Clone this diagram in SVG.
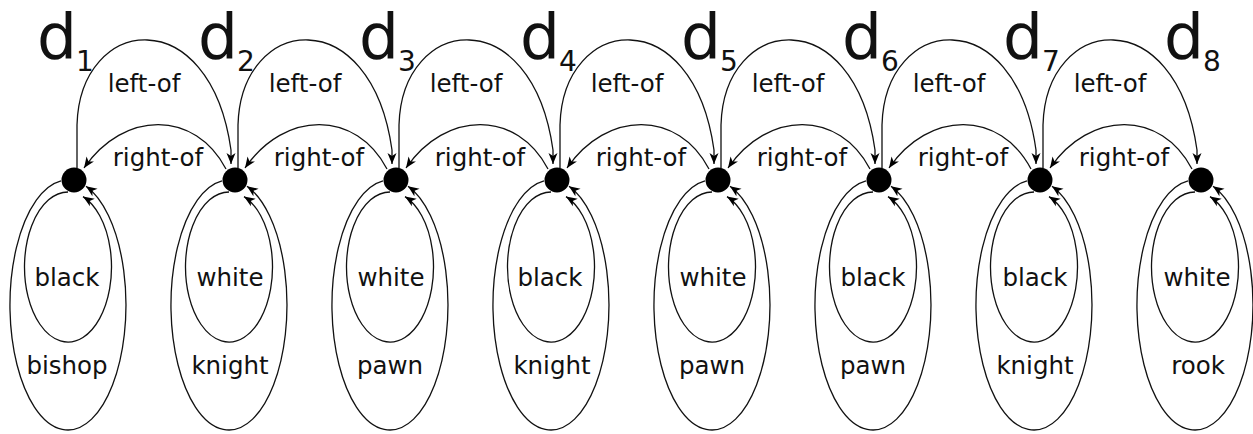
<svg xmlns="http://www.w3.org/2000/svg" width="1253" height="434" viewBox="0 0 1253 434">
<style>
.e{fill:none;stroke:#111;stroke-width:1.3}
.a{fill:none;stroke:#111;stroke-width:1.3;marker-end:url(#ah)}
.n{fill:#000}
.t{font-family:"DejaVu Sans",sans-serif;font-size:24.5px;fill:#111;text-anchor:middle}
.d{font-family:"DejaVu Sans",sans-serif;font-size:63px;fill:#111}
.s{font-family:"DejaVu Sans",sans-serif;font-size:28px;fill:#111}
</style>
<defs>
<marker id="ah" viewBox="-12 -6 13 12" refX="0" refY="0" markerWidth="13" markerHeight="12" markerUnits="userSpaceOnUse" orient="auto">
<path d="M0 0 L-11 -4.5 L-8 0 L-11 4.5 Z" fill="#000"/>
</marker>
</defs>
<rect width="1253" height="434" fill="#fff"/>
<g id="connectors">
<path class="a" d="M77 168 L77 125 C80 15 210 0 231 150 L231 164"/>
<path class="a" d="M238 168 L238 125 C241 15 371 0 392 150 L392 164"/>
<path class="a" d="M399 168 L399 125 C402 15 532 0 553 150 L553 164"/>
<path class="a" d="M560 168 L560 125 C563 15 693 0 714 150 L714 164"/>
<path class="a" d="M721 168 L721 125 C724 15 854 0 875 150 L875 164"/>
<path class="a" d="M882 168 L882 125 C885 15 1015 0 1036 150 L1036 164"/>
<path class="a" d="M1043 168 L1043 125 C1046 15 1176 0 1197 150 L1197 164"/>
<path class="a" d="M226 169 C195 110 124 110 84 168"/>
<path class="a" d="M387 169 C356 110 285 110 245 168"/>
<path class="a" d="M548 169 C517 110 446 110 406 168"/>
<path class="a" d="M709 169 C678 110 607 110 567 168"/>
<path class="a" d="M870 169 C839 110 768 110 728 168"/>
<path class="a" d="M1031 169 C1000 110 929 110 889 168"/>
<path class="a" d="M1192 169 C1161 110 1090 110 1050 168"/>
<text class="t" x="144" y="92">left-of</text>
<text class="t" x="305" y="92">left-of</text>
<text class="t" x="466" y="92">left-of</text>
<text class="t" x="627" y="92">left-of</text>
<text class="t" x="788" y="92">left-of</text>
<text class="t" x="949" y="92">left-of</text>
<text class="t" x="1110" y="92">left-of</text>
<text class="t" x="158" y="166">right-of</text>
<text class="t" x="319" y="166">right-of</text>
<text class="t" x="480" y="166">right-of</text>
<text class="t" x="641" y="166">right-of</text>
<text class="t" x="802" y="166">right-of</text>
<text class="t" x="963" y="166">right-of</text>
<text class="t" x="1124" y="166">right-of</text>
</g>
<g id="d1">
<path class="a" d="M61 180.9 A58 125 0 1 0 86 186.2"/>
<path class="a" d="M68 192 A43.5 75 0 1 0 83 196.6"/>
<circle class="n" cx="74" cy="180" r="12.5"/>
<text class="d" x="37" y="58">d</text><text class="s" x="76" y="71">1</text>
<text class="t" x="67" y="286">black</text>
<text class="t" x="67" y="374">bishop</text>
</g>
<g id="d2">
<path class="a" d="M222 180.9 A58 125 0 1 0 247 186.2"/>
<path class="a" d="M229 192 A43.5 75 0 1 0 244 196.6"/>
<circle class="n" cx="235" cy="180" r="12.5"/>
<text class="d" x="198" y="58">d</text><text class="s" x="237" y="71">2</text>
<text class="t" x="230" y="286">white</text>
<text class="t" x="230" y="374">knight</text>
</g>
<g id="d3">
<path class="a" d="M383 180.9 A58 125 0 1 0 408 186.2"/>
<path class="a" d="M390 192 A43.5 75 0 1 0 405 196.6"/>
<circle class="n" cx="396" cy="180" r="12.5"/>
<text class="d" x="359" y="58">d</text><text class="s" x="398" y="71">3</text>
<text class="t" x="391" y="286">white</text>
<text class="t" x="390" y="374">pawn</text>
</g>
<g id="d4">
<path class="a" d="M544 180.9 A58 125 0 1 0 569 186.2"/>
<path class="a" d="M551 192 A43.5 75 0 1 0 566 196.6"/>
<circle class="n" cx="557" cy="180" r="12.5"/>
<text class="d" x="520" y="58">d</text><text class="s" x="559" y="71">4</text>
<text class="t" x="550" y="286">black</text>
<text class="t" x="552" y="374">knight</text>
</g>
<g id="d5">
<path class="a" d="M705 180.9 A58 125 0 1 0 730 186.2"/>
<path class="a" d="M712 192 A43.5 75 0 1 0 727 196.6"/>
<circle class="n" cx="718" cy="180" r="12.5"/>
<text class="d" x="681" y="58">d</text><text class="s" x="720" y="71">5</text>
<text class="t" x="713" y="286">white</text>
<text class="t" x="712" y="374">pawn</text>
</g>
<g id="d6">
<path class="a" d="M866 180.9 A58 125 0 1 0 891 186.2"/>
<path class="a" d="M873 192 A43.5 75 0 1 0 888 196.6"/>
<circle class="n" cx="879" cy="180" r="12.5"/>
<text class="d" x="842" y="58">d</text><text class="s" x="881" y="71">6</text>
<text class="t" x="873" y="286">black</text>
<text class="t" x="873" y="374">pawn</text>
</g>
<g id="d7">
<path class="a" d="M1027 180.9 A58 125 0 1 0 1052 186.2"/>
<path class="a" d="M1034 192 A43.5 75 0 1 0 1049 196.6"/>
<circle class="n" cx="1040" cy="180" r="12.5"/>
<text class="d" x="1003" y="58">d</text><text class="s" x="1042" y="71">7</text>
<text class="t" x="1035" y="286">black</text>
<text class="t" x="1035" y="374">knight</text>
</g>
<g id="d8">
<path class="a" d="M1188 180.9 A58 125 0 1 0 1213 186.2"/>
<path class="a" d="M1195 192 A43.5 75 0 1 0 1210 196.6"/>
<circle class="n" cx="1201" cy="180" r="12.5"/>
<text class="d" x="1164" y="58">d</text><text class="s" x="1203" y="71">8</text>
<text class="t" x="1197" y="286">white</text>
<text class="t" x="1198" y="374">rook</text>
</g>
</svg>
